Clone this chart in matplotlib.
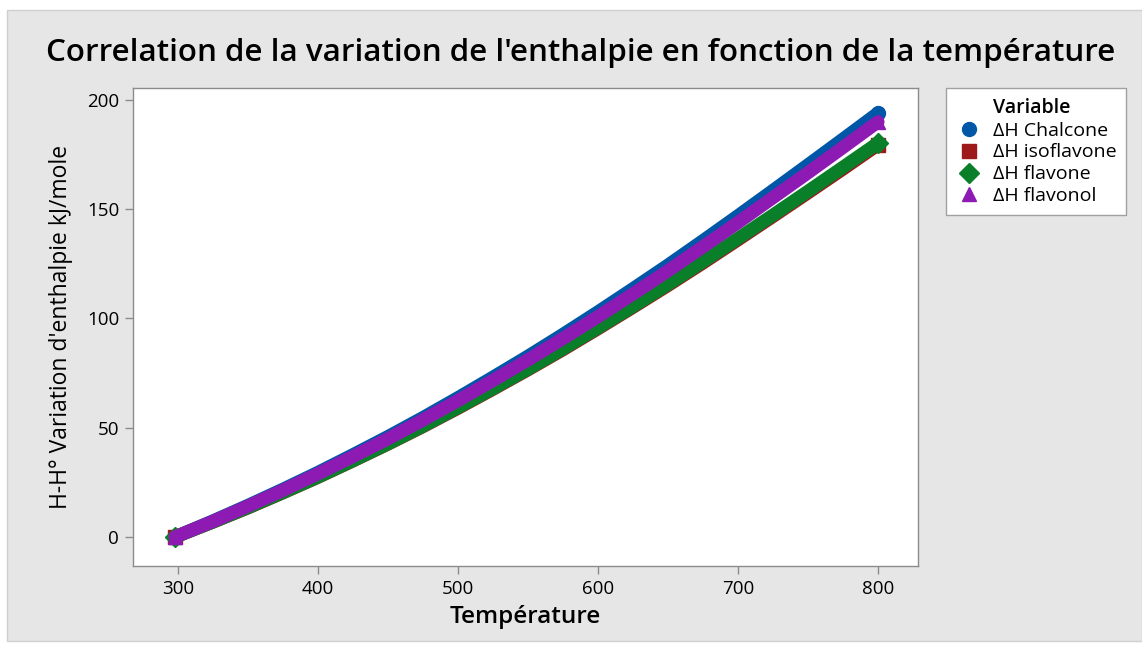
import matplotlib
matplotlib.use("Agg")
import matplotlib.pyplot as plt
from matplotlib.patches import Rectangle

plt.rcParams['font.family'] = ['Open Sans', 'DejaVu Sans']

# températures (K) et variations d'enthalpie (kJ/mole)
temperature = [298, 325, 350, 375, 400, 425, 450, 475, 500, 525, 550,
               575, 600, 625, 650, 675, 700, 725, 750, 775, 800]
dh_chalcone = [0, 7.3, 14.4, 21.8, 29.5, 37.6, 45.9, 54.6, 63.7, 73.1, 82.7,
               92.7, 103.0, 113.6, 124.4, 135.6, 147.0, 158.6, 170.3, 182.1, 194.0]
dh_isoflavone = [0, 6.8, 13.3, 20.2, 27.3, 34.8, 42.5, 50.5, 58.9, 67.6, 76.5,
                 85.7, 95.3, 105.1, 115.1, 125.4, 136.0, 146.7, 157.5, 168.4, 179.5]
dh_flavone = [0, 6.8, 13.4, 20.3, 27.4, 34.9, 42.6, 50.7, 59.2, 67.9, 76.8,
              86.1, 95.7, 105.5, 115.6, 126.0, 136.6, 147.3, 158.2, 169.2, 180.3]
dh_flavonol = [0, 7.1, 14.1, 21.3, 28.9, 36.8, 44.9, 53.5, 62.4, 71.6, 81.0,
               90.8, 100.8, 111.2, 121.8, 132.8, 143.9, 155.3, 166.7, 178.3, 190.0]

series = [
    ("ΔH Chalcone", dh_chalcone, "#0057a8", "o"),
    ("ΔH isoflavone", dh_isoflavone, "#9e1a1a", "s"),
    ("ΔH flavone", dh_flavone, "#0a7f2a", "D"),
    ("ΔH flavonol", dh_flavonol, "#8e1ab4", "^"),
]

fig = plt.figure(figsize=(11.42, 6.45), dpi=100)
fig.patch.set_facecolor("white")
# panneau gris de fond
fig.patches.append(Rectangle((7 / 1142, 0.006), 1 - 7 / 1142, 1 - 10 / 645 - 0.006,
                             transform=fig.transFigure, facecolor="#e6e6e6",
                             edgecolor="#cfcfcf", linewidth=1, zorder=-10))

ax = fig.add_axes([133 / 1142, 1 - 566 / 645, (918 - 133) / 1142, (566 - 88) / 645])
ax.set_facecolor("white")

# entrée vide pour le titre "Variable" aligné sur les libellés
title_h, = ax.plot([], [], linestyle="none", marker="None", label="Variable")
handles = [title_h]
for name, vals, color, marker in series:
    # bande épaisse (points très denses dans l'original), marqueur aux extrémités
    ax.plot(temperature, vals, color=color, linewidth=9.5, solid_capstyle="round",
            marker=marker, markevery=[0, -1], markersize=10, markeredgecolor=color, zorder=2)
    h, = ax.plot([], [], linestyle="none", marker=marker, markersize=10,
                 color=color, markeredgecolor=color, label=name)
    handles.append(h)

ax.set_xlim(268, 828.6)
ax.set_ylim(-13.3, 205.5)
ax.set_xticks([300, 400, 500, 600, 700, 800])
ax.set_yticks([0, 50, 100, 150, 200])
ax.tick_params(axis="both", direction="out", length=6, width=1, color="#8c8c8c",
               labelsize=13.5, pad=4)
for s in ax.spines.values():
    s.set_color("#8c8c8c")
    s.set_linewidth(1)

ax.set_xlabel("Température", fontsize=17.5, fontweight="semibold", labelpad=5)
ax.set_ylabel("H-H° Variation d'enthalpie kJ/mole", fontsize=16.5, labelpad=10)

fig.text(581 / 1142, 1 - 53 / 645,
         "Correlation de la variation de l'enthalpie en fonction de la température",
         ha="center", va="center", fontsize=22.6, fontweight="semibold")

leg = fig.legend(handles=handles, loc="upper left",
                 bbox_to_anchor=(946 / 1142, 1 - 88 / 645), borderaxespad=0,
                 frameon=True, fontsize=14,
                 handletextpad=0.5, borderpad=0.5, labelspacing=0.2,
                 handlelength=1.4, fancybox=False, facecolor="white", framealpha=1)
leg.get_frame().set_edgecolor("#a0a0a0")
leg.get_frame().set_linewidth(1)
leg.get_texts()[0].set_fontweight("semibold")

fig.savefig("out.png", dpi=100)
